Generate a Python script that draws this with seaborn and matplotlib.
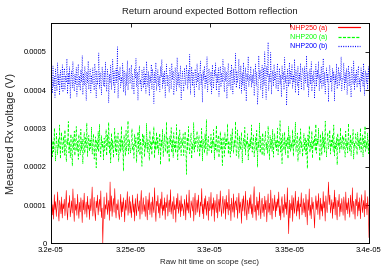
import numpy as np
import pandas as pd
import matplotlib
matplotlib.use("Agg")
import matplotlib.pyplot as plt
import seaborn as sns
from matplotlib.lines import Line2D
from matplotlib.ticker import FuncFormatter, FixedLocator

t_start = 3.2e-05
t_end = 3.4e-05

# values in microvolts (1e-6 V)
nhp250_a = [
    92, 118, 74, 101, 63, 127, 88, 109, 70, 96, 134, 81, 58, 112, 99, 77, 121, 66, 103, 90,
    115, 72, 97, 138, 84, 61, 106, 93, 125, 69, 88, 111, 79, 142, 95, 57, 118, 86, 102, 73,
    128, 91, 65, 107, 82, 119, 98, 54, 113, 87, 131, 76, 94, 108, 68, 123, 89, 100, 62, 116,
    85, 104, 147, 71, 96, 120, 80, 59, 110, 93, 126, 74, 99, 115, 83, 137, 67, 92, 0, 78,
    121, 64, 101, 89, 132, 75, 96, 112, 60, 160, 84, 124, 70, 98, 117, 81, 143, 91, 66, 103,
    87, 114, 77, 62, 95, 128, 69, 108, 82, 119, 92, 56, 113, 86, 100, 135, 73, 97, 122, 79,
    109, 67, 94, 126, 81, 103, 58, 117, 90, 72, 129, 98, 84, 111, 63, 106, 138, 76, 95, 119,
    83, 101, 70, 123, 92, 61, 114, 87, 132, 75, 99, 108, 68, 121, 94, 80, 145, 88, 57, 110,
    97, 125, 79, 104, 66, 116, 91, 134, 73, 100, 85, 119, 62, 107, 93, 127, 71, 98, 113, 82,
    140, 76, 95, 109, 64, 122, 87, 101, 55, 118, 90, 130, 78, 96, 112, 69, 124, 84, 103, 91,
    72, 115, 98, 61, 127, 86, 106, 79, 139, 93, 67, 111, 100, 84, 120, 58, 105, 131, 74, 96,
    113, 81, 126, 92, 69, 108, 97, 143, 77, 102, 64, 117, 89, 124, 73, 99, 110, 60, 121, 85,
    94, 133, 71, 104, 88, 119, 57, 112, 96, 80, 128, 66, 101, 115, 83, 137, 92, 70, 106, 123,
    78, 99, 115, 63, 125, 90, 107, 74, 141, 86, 102, 59, 118, 95, 81, 129, 68, 104, 111, 87,
    120, 65, 97, 131, 79, 108, 93, 52, 116, 84, 124, 100, 72, 136, 89, 61, 113, 98, 77, 119,
    91, 127, 76, 103, 67, 114, 148, 82, 99, 60, 121, 87, 110, 73, 133, 95, 64, 106, 118, 80,
    102, 70, 123, 88, 112, 56, 97, 129, 81, 105, 74, 139, 93, 63, 117, 85, 100, 126, 69, 108,
    85, 116, 94, 134, 72, 98, 61, 110, 122, 79, 101, 68, 128, 90, 107, 75, 145, 83, 25, 113,
    66, 104, 87, 125, 57, 119, 92, 78, 136, 99, 71, 111, 84, 121, 63, 103, 95, 132, 74, 90,
    117, 80, 106, 69, 128, 93, 48, 114, 86, 142, 73, 100, 64, 120, 89, 108, 77, 40, 97, 124,
    88, 111, 75, 130, 96, 62, 118, 84, 103, 71, 135, 92, 109, 58, 124, 97, 80, 115, 160, 101,
    126, 79, 98, 114, 65, 107, 90, 139, 74, 120, 86, 61, 112, 95, 128, 70, 104, 82, 117, 93,
    73, 121, 99, 60, 134, 87, 106, 77, 118, 91, 68, 126, 100, 83, 145, 76, 110, 94, 63, 115,
    98, 132, 71, 108, 85, 119, 64, 103, 127, 80, 96, 112, 69, 138, 90, 105, 74, 122, 86, 15,
]
nhp200_a = [
    252, 281, 226, 268, 239, 301, 244, 215, 287, 259, 232, 274, 248, 309, 221, 263, 290, 237, 256, 279,
    230, 296, 249, 213, 271, 258, 318, 236, 266, 224, 285, 251, 202, 277, 245, 293, 229, 262, 305, 241,
    267, 219, 284, 254, 231, 298, 243, 272, 208, 261, 289, 235, 276, 250, 314, 227, 258, 282, 240, 269,
    247, 303, 233, 264, 286, 220, 255, 278, 197, 270, 244, 292, 238, 311, 253, 226, 281, 249, 266, 218,
    275, 242, 260, 297, 229, 283, 252, 316, 234, 265, 210, 288, 246, 271, 223, 257, 300, 239, 279, 231,
    261, 288, 214, 250, 274, 237, 306, 245, 268, 189, 282, 256, 228, 295, 241, 263, 320, 233, 270, 248,
    236, 267, 299, 243, 258, 222, 285, 253, 276, 211, 262, 291, 240, 307, 230, 272, 249, 201, 287, 257,
    283, 225, 264, 248, 313, 238, 271, 256, 217, 294, 245, 266, 231, 280, 259, 304, 222, 268, 243, 290,
    246, 276, 232, 260, 287, 205, 269, 251, 298, 227, 263, 284, 239, 255, 317, 233, 274, 248, 212, 279,
    258, 302, 237, 270, 224, 289, 247, 265, 236, 310, 251, 218, 281, 243, 296, 262, 229, 273, 254, 286,
    229, 264, 292, 250, 180, 277, 242, 305, 255, 234, 269, 288, 221, 260, 245, 315, 238, 275, 252, 267,
    293, 240, 257, 281, 226, 266, 248, 300, 215, 272, 259, 235, 286, 247, 323, 230, 263, 279, 242, 256,
    249, 285, 234, 271, 253, 297, 219, 262, 244, 308, 237, 268, 282, 224, 256, 291, 243, 273, 203, 278,
    264, 227, 289, 246, 275, 258, 312, 233, 267, 250, 225, 284, 241, 299, 260, 235, 270, 253, 318, 229,
    237, 296, 255, 222, 280, 244, 265, 290, 210, 258, 274, 247, 303, 231, 268, 256, 286, 218, 262, 245,
    274, 249, 309, 238, 261, 283, 226, 252, 277, 241, 295, 199, 265, 250, 314, 236, 279, 257, 230, 288,
    253, 228, 270, 292, 245, 263, 235, 306, 257, 219, 282, 248, 271, 240, 297, 225, 260, 286, 251, 268,
    242, 301, 231, 266, 254, 320, 238, 275, 208, 287, 259, 243, 291, 232, 269, 252, 278, 221, 305, 247,
    281, 239, 262, 248, 296, 227, 273, 256, 316, 240, 265, 288, 214, 257, 276, 234, 299, 250, 263, 226,
    258, 287, 243, 275, 232, 268, 195, 283, 252, 307, 237, 264, 246, 293, 222, 270, 255, 280, 241, 311,
    235, 272, 257, 300, 244, 215, 285, 263, 230, 292, 249, 277, 238, 319, 255, 226, 268, 289, 247, 260,
    296, 233, 269, 251, 284, 240, 309, 228, 262, 245, 276, 205, 287, 253, 271, 237, 302, 246, 265, 282,
    244, 278, 259, 225, 293, 250, 267, 236, 313, 255, 241, 284, 229, 270, 258, 297, 220, 263, 249, 286,
    267, 231, 290, 254, 272, 245, 301, 238, 260, 283, 226, 274, 252, 306, 240, 265, 248, 288, 234, 270,
]
nhp200_b = [
    418, 447, 392, 463, 409, 436, 381, 455, 424, 398, 471, 413, 440, 387, 452, 429, 404, 466, 395, 433,
    457, 401, 438, 420, 482, 390, 445, 415, 461, 378, 432, 450, 406, 474, 423, 397, 441, 416, 459, 384,
    426, 468, 410, 437, 399, 453, 421, 490, 388, 444, 412, 462, 430, 373, 448, 419, 476, 402, 435, 455,
    393, 439, 416, 458, 427, 400, 469, 443, 380, 451, 414, 432, 497, 405, 446, 422, 388, 460, 431, 411,
    449, 408, 473, 425, 396, 454, 435, 367, 442, 418, 465, 401, 437, 480, 413, 450, 392, 428, 457, 420,
    513, 379, 448, 426, 461, 407, 434, 419, 470, 395, 452, 428, 386, 445, 412, 477, 400, 438, 458, 417,
    433, 466, 402, 441, 421, 389, 456, 430, 483, 409, 447, 374, 439, 463, 415, 427, 398, 452, 436, 406,
    460, 414, 444, 392, 475, 428, 410, 449, 385, 437, 420, 467, 403, 455, 431, 365, 446, 418, 472, 399,
    425, 453, 411, 438, 396, 462, 434, 480, 405, 443, 418, 451, 381, 429, 468, 410, 440, 422, 394, 457,
    441, 403, 470, 427, 450, 387, 419, 459, 432, 398, 485, 414, 445, 408, 436, 463, 375, 426, 449, 415,
    397, 458, 431, 413, 466, 440, 402, 452, 420, 493, 389, 434, 461, 411, 447, 425, 383, 455, 437, 409,
    469, 421, 445, 400, 435, 476, 414, 442, 368, 451, 428, 463, 405, 439, 418, 487, 396, 432, 456, 424,
    412, 448, 390, 466, 427, 404, 453, 436, 471, 399, 443, 419, 458, 384, 430, 462, 408, 445, 421, 480,
    435, 395, 460, 423, 447, 378, 438, 470, 411, 429, 452, 401, 467, 433, 390, 456, 417, 441, 496, 406,
    450, 419, 437, 481, 403, 428, 464, 392, 446, 414, 472, 398, 434, 459, 371, 443, 425, 488, 409, 438,
    424, 462, 407, 440, 418, 455, 385, 431, 468, 412, 447, 362, 394, 490, 430, 452, 402, 437, 465, 380,
    458, 413, 500, 429, 376, 461, 436, 525, 399, 442, 420, 498, 389, 433, 451, 410, 467, 425, 446, 404,
    437, 470, 396, 423, 457, 415, 440, 382, 463, 428, 448, 401, 485, 419, 438, 360, 455, 430, 409, 472,
    416, 449, 427, 466, 405, 439, 420, 481, 393, 451, 432, 410, 462, 386, 444, 425, 470, 401, 436, 458,
    444, 400, 461, 419, 437, 490, 408, 446, 383, 428, 455, 415, 474, 397, 439, 422, 451, 378, 433, 467,
    409, 453, 431, 475, 398, 441, 418, 462, 405, 436, 483, 412, 447, 390, 429, 458, 421, 443, 369, 454,
    465, 420, 438, 396, 457, 427, 449, 372, 440, 416, 469, 403, 435, 460, 411, 446, 425, 487, 399, 431,
    428, 471, 402, 445, 419, 456, 388, 433, 464, 410, 448, 424, 381, 459, 437, 415, 476, 400, 442, 420,
    452, 407, 439, 463, 414, 430, 395, 458, 423, 447, 409, 470, 386, 434, 451, 418, 445, 402, 461, 426,
]
labels = ["NHP250 (a)", "NHP200 (a)", "NHP200 (b)"]
x_ticks = [3.2e-05, 3.25e-05, 3.3e-05, 3.35e-05, 3.4e-05]
y_ticks = [0, 0.0001, 0.0002, 0.0003, 0.0004, 0.0005]

sns.set_style("white")
plt.rcParams["font.family"] = ["Liberation Sans", "DejaVu Sans"]
plt.rcParams["lines.scale_dashes"] = False

n = len(nhp250_a)
t = np.linspace(t_start, t_end, n)
frames = []
for lab, vals in zip(labels, [nhp250_a, nhp200_a, nhp200_b]):
    frames.append(pd.DataFrame({"t": t, "v": np.array(vals) * 1e-6, "series": lab}))
df = pd.concat(frames, ignore_index=True)

fig = plt.figure(figsize=(3.82, 2.67), dpi=100)
ax = fig.add_axes([51 / 382, 1 - 243.3 / 267, (369 - 51) / 382, (243.3 - 22.7) / 267])

colors = ["#ff0000", "#00ff00", "#0000ff"]
styles = ["-", (0, (2.2, 1.0)), (0, (0.7, 1.0))]
for lab, c, ls in zip(labels, colors, styles):
    sub = df[df["series"] == lab]
    sns.lineplot(data=sub, x="t", y="v", ax=ax, color=c, lw=0.45, linestyle=ls, legend=False)

ax.set_xlim(t_start, t_end)
ax.set_ylim(0, 0.000576)
ax.xaxis.set_major_locator(FixedLocator(x_ticks))
ax.yaxis.set_major_locator(FixedLocator(y_ticks))
fmt = FuncFormatter(lambda v, p: "%g" % v)
ax.xaxis.set_major_formatter(fmt)
ax.yaxis.set_major_formatter(fmt)
ax.tick_params(direction="in", length=3, width=0.6, labelsize=5.5, top=True, right=True, pad=3,
               colors="black")
for s in ax.spines.values():
    s.set_color("black")
    s.set_linewidth(0.7)

ax.set_title("Return around expected Bottom reflection", fontsize=6.8, pad=6)
ax.set_xlabel("Raw hit time on scope (sec)", fontsize=5.8, labelpad=3)
ax.set_ylabel("Measured Rx voltage (V)", fontsize=7.8, labelpad=6)

handles = [Line2D([], [], color=c, linestyle=ls, lw=0.9) for c, ls in zip(colors, styles)]
leg = ax.legend(handles=handles, labels=labels, loc="upper right",
                bbox_to_anchor=((360 - 51) / 318, 0.99), frameon=False,
                fontsize=5.0, markerfirst=False, labelcolor=colors,
                handlelength=3.2, handletextpad=1.5, labelspacing=0.3,
                borderaxespad=0.0, borderpad=0.0)

fig.savefig("out.png", dpi=100)
